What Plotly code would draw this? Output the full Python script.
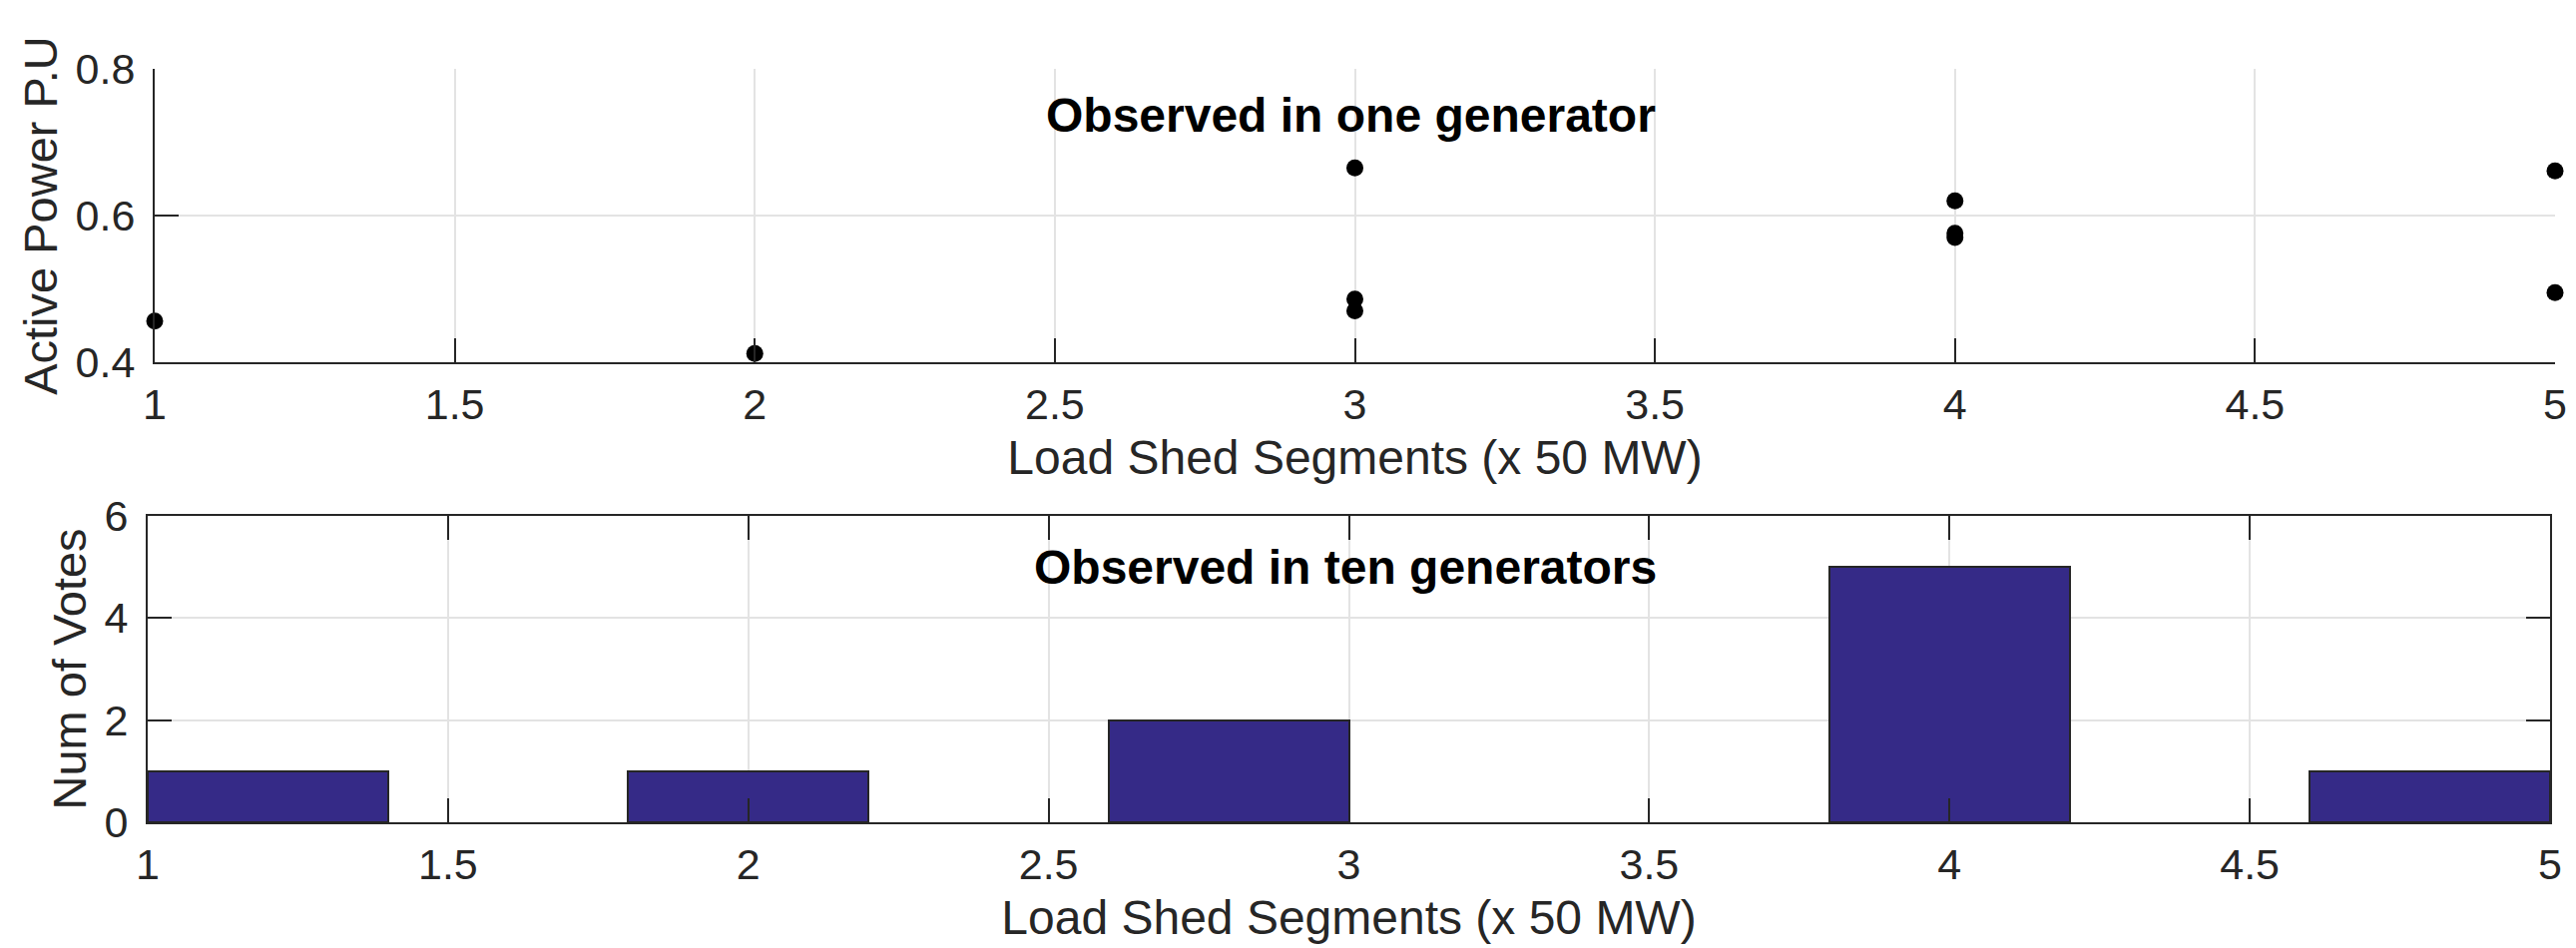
import plotly.graph_objects as go

# ---- data ----
seg_x = [1, 2, 3, 3, 3, 4, 4, 4, 5, 5]
power_pu = [0.456, 0.412, 0.665, 0.486, 0.470, 0.620, 0.576, 0.570, 0.661, 0.495]

bar_centers = [1.2, 2.0, 2.8, 4.0, 4.8]
votes = [1, 1, 2, 5, 1]
bar_width = 0.4

x_ticks = [1, 1.5, 2, 2.5, 3, 3.5, 4, 4.5, 5]
x_ticklabels = ["1", "1.5", "2", "2.5", "3", "3.5", "4", "4.5", "5"]
y1_ticks = [0.4, 0.6, 0.8]
y1_ticklabels = ["0.4", "0.6", "0.8"]
y2_ticks = [0, 2, 4, 6]
y2_ticklabels = ["0", "2", "4", "6"]

title_top = "Observed in one generator"
title_bottom = "Observed in ten generators"
xlabel = "Load Shed Segments (x 50 MW)"
ylabel_top = "Active Power P.U"
ylabel_bottom = "Num of Votes"

# ---- style ----
W, H = 2581, 950
FONT = "Liberation Sans, Arial, Helvetica, sans-serif"
AX = "#262626"
GRID = "#e3e3e3"
BAR = "#352a87"
TICKF = 43
XLABF = 48
YLABF = 47

fig = go.Figure()
fig.add_trace(go.Scatter(
    x=seg_x, y=power_pu, mode="markers",
    marker=dict(color="black", size=17, line=dict(width=0)),
    cliponaxis=False, xaxis="x", yaxis="y", showlegend=False))
fig.add_trace(go.Bar(
    x=bar_centers, y=votes, width=[bar_width] * len(votes),
    marker=dict(color=BAR, line=dict(color=AX, width=2)),
    xaxis="x2", yaxis="y2", showlegend=False))

def px_x(p):
    return p / W

def px_y(p):
    return 1 - p / H

common = dict(
    automargin=False,
    ticks="inside", ticklen=24, tickwidth=2, tickcolor=AX,
    showline=True, linecolor=AX, linewidth=2,
    showgrid=True, gridcolor=GRID, gridwidth=2,
    zeroline=False,
    tickfont=dict(family=FONT, size=TICKF, color=AX),
)

xtitle = dict(text=xlabel, font=dict(family=FONT, size=XLABF, color=AX), standoff=14)

fig.update_layout(
    template="none",
    width=W, height=H, autosize=False,
    margin=dict(l=0, r=0, t=0, b=0),
    paper_bgcolor="white", plot_bgcolor="white",
    font=dict(family=FONT, color=AX),
    bargap=0,
    xaxis=dict(domain=[px_x(147), px_x(2552)], range=[1, 5], anchor="y",
               tickvals=x_ticks, ticktext=x_ticklabels, mirror=False,
               ticklabelstandoff=3, title=xtitle, **common),
    yaxis=dict(domain=[px_y(355), px_y(61)], range=[0.4, 0.8], anchor="x",
               tickvals=y1_ticks, ticktext=y1_ticklabels, mirror=False,
               ticklabelstandoff=9,
               title=dict(text=ylabel_top, font=dict(family=FONT, size=YLABF, color=AX), standoff=3),
               **common),
    xaxis2=dict(domain=[px_x(140), px_x(2547)], range=[1, 5], anchor="y2",
                tickvals=x_ticks, ticktext=x_ticklabels, mirror="ticks",
                ticklabelstandoff=3, title=xtitle, **common),
    yaxis2=dict(domain=[px_y(816), px_y(509)], range=[0, 6], anchor="x2",
                tickvals=y2_ticks, ticktext=y2_ticklabels, mirror="ticks",
                ticklabelstandoff=9,
                title=dict(text=ylabel_bottom, font=dict(family=FONT, size=YLABF, color=AX), standoff=3),
                **common),
    annotations=[
        dict(text=f"<b>{title_top}</b>", x=px_x(1345), y=px_y(107), xref="paper", yref="paper",
             xanchor="center", yanchor="middle", showarrow=False,
             font=dict(family=FONT, size=48, color="black")),
        dict(text=f"<b>{title_bottom}</b>", x=px_x(1340), y=px_y(560), xref="paper", yref="paper",
             xanchor="center", yanchor="middle", showarrow=False,
             font=dict(family=FONT, size=48, color="black")),
    ],
)

fig.write_html("out.html")
